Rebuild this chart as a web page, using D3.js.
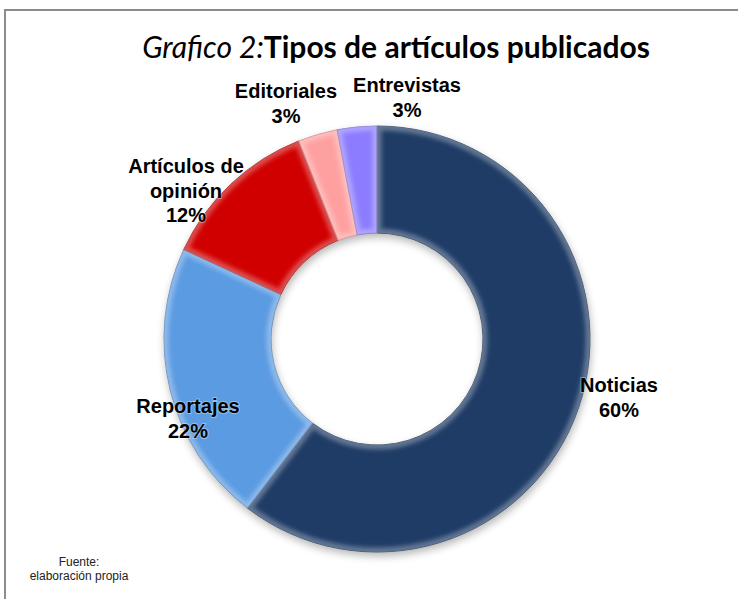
<!DOCTYPE html>
<html>
<head>
<meta charset="utf-8">
<script src="https://cdn.jsdelivr.net/npm/d3@7"></script>
<style>
	body { margin: 0; background: #fff; }
	#chart { width: 738px; height: 599px; }
</style>
</head>
<body>
<div id="chart"></div>
<script>
// Data
const categories = ["Noticias", "Reportajes", "Artículos de opinión", "Editoriales", "Entrevistas"];
const values = [60.4, 21.5, 12.1, 3.0, 3.0];
const labelLines = [["Noticias"], ["Reportajes"], ["Artículos de", "opinión"], ["Editoriales"], ["Entrevistas"]];
const colors = ["#1f3c66", "#5b9be2", "#d00000", "#ffa0a0", "#8c7cff"];

// label anchor points (centre of the text block, first baseline)
const labelPos = [[619, 392], [188, 413], [186, 173], [286, 98], [407, 92]];

const width = 738;
const height = 599;
const cx = 377, cy = 339;
const outerR = 213, innerR = 106;

const svg = d3.select("#chart").append("svg")
	.attr("width", width)
	.attr("height", height);

// frame
svg.append("rect")
	.attr("x", 5)
	.attr("y", 10)
	.attr("width", 800)
	.attr("height", 800)
	.attr("fill", "#fff")
	.attr("stroke", "#8c8c8c")
	.attr("stroke-width", 2);

// Title
const title = svg.append("text")
	.attr("x", 396)
	.attr("y", 58)
	.attr("text-anchor", "middle")
	.style("font-family", "Lato, 'Open Sans', sans-serif")
	.style("font-size", "30px")
	.attr("fill", "#000");
title.append("tspan").style("font-style", "italic").text("Grafico 2:");
title.append("tspan").style("font-weight", "bold").text("Tipos de artículos publicados");

const defs = svg.append("defs");

// blur used for the bevel highlight
defs.append("filter")
	.attr("id", "soft")
	.append("feGaussianBlur")
	.attr("stdDeviation", 2);

// drop shadow under the ring
const shadow = defs.append("filter")
	.attr("id", "shadow")
	.attr("x", "-10%").attr("y", "-10%")
	.attr("width", "120%").attr("height", "125%");
shadow.append("feGaussianBlur").attr("in", "SourceAlpha").attr("stdDeviation", 4).attr("result", "b");
shadow.append("feOffset").attr("in", "b").attr("dx", 1).attr("dy", 4).attr("result", "o");
shadow.append("feComponentTransfer").attr("in", "o").attr("result", "s")
	.append("feFuncA").attr("type", "linear").attr("slope", 0.3);

const pie = d3.pie().sort(null).value(d => d);
const arcs = pie(values);

const arc = d3.arc()
	.innerRadius(innerR)
	.outerRadius(outerR);

const g = svg.append("g").attr("transform", `translate(${cx},${cy})`);

// clip paths, one per slice
defs.selectAll("clipPath")
	.data(arcs)
	.join("clipPath")
	.attr("id", (d, i) => "slice-" + i)
	.attr("transform", `translate(${cx},${cy})`)
	.append("path")
	.attr("d", arc);

// soft shadow under the ring
g.append("g")
	.attr("filter", "url(#shadow)")
	.selectAll("path")
	.data(arcs)
	.join("path")
	.attr("d", arc)
	.attr("fill", "#000");

// slices
g.append("g")
	.selectAll("path")
	.data(arcs)
	.join("path")
	.attr("d", arc)
	.attr("fill", (d, i) => colors[i]);

// bevel: light inner edge clipped to each slice
svg.append("g")
	.selectAll("g")
	.data(arcs)
	.join("g")
	.attr("clip-path", (d, i) => `url(#slice-${i})`)
	.append("path")
	.attr("transform", `translate(${cx},${cy})`)
	.attr("d", arc)
	.attr("fill", "none")
	.attr("stroke", "rgba(255,255,255,0.3)")
	.attr("stroke-width", 9)
	.attr("filter", "url(#soft)");

// thin dark outline
g.append("g")
	.selectAll("path")
	.data(arcs)
	.join("path")
	.attr("d", arc)
	.attr("fill", "none")
	.attr("stroke", (d, i) => d3.color(colors[i]).darker(0.8))
	.attr("stroke-opacity", 0.7)
	.attr("stroke-width", 1);

// Labels
const fmt = d3.format(".0f");
const labels = svg.append("g")
	.style("font-family", "'Liberation Sans', Arial, sans-serif")
	.style("font-size", "20px")
	.style("font-weight", "bold")
	.attr("fill", "#000")
	.attr("text-anchor", "middle");

arcs.forEach((d, i) => {
	const lines = labelLines[i].concat([fmt(d.data) + "%"]);
	const t = labels.append("text")
		.attr("x", labelPos[i][0])
		.attr("y", labelPos[i][1])
		.style("paint-order", "stroke")
		.attr("stroke", "rgba(255,255,255,0.35)")
		.attr("stroke-width", 2);
	lines.forEach((l, j) => {
		t.append("tspan")
			.attr("x", labelPos[i][0])
			.attr("dy", j === 0 ? 0 : 24.5)
			.text(l);
	});
});

// source note
const src = svg.append("g")
	.style("font-family", "'Liberation Sans', Arial, sans-serif")
	.style("font-size", "12px")
	.attr("fill", "#222")
	.attr("text-anchor", "middle");
src.append("text").attr("x", 79).attr("y", 566).text("Fuente:");
src.append("text").attr("x", 79).attr("y", 580).text("elaboración propia");
</script>
</body>
</html>
